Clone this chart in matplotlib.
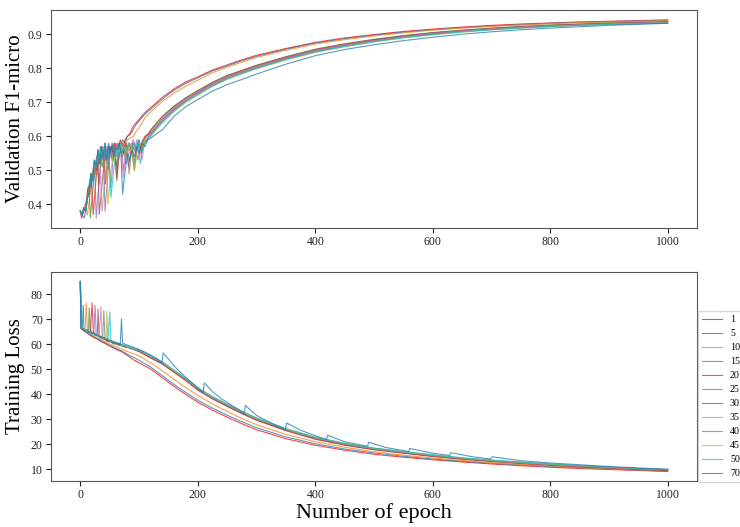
import matplotlib
matplotlib.use('Agg')
import matplotlib.pyplot as plt
from matplotlib.ticker import MultipleLocator

plt.rcParams['font.family'] = ['Liberation Serif', 'DejaVu Serif']

labels = ['1', '5', '10', '15', '20', '25', '30', '35', '40', '45', '50', '70']
starts = [1, 5, 10, 15, 20, 25, 30, 35, 40, 45, 50, 70]
colors = ['#ff0000', '#1f77b4', '#ff7f0e', '#2ca02c', '#d62728', '#9467bd',
          '#8c564b', '#e377c2', '#7f7f7f', '#bcbd22', '#17becf', '#1f77b4']

# ---------------- Validation F1-micro ----------------
v_pre_ep = [0, 3, 6, 9, 12, 15, 18, 21, 24, 27, 30, 33, 36, 39, 42, 45, 48, 51, 54, 57, 60, 63, 66, 69]
v_pre = [0.38, 0.37, 0.39, 0.38, 0.42, 0.44, 0.49, 0.47, 0.53, 0.51, 0.56, 0.52, 0.57, 0.54, 0.58, 0.53,
         0.57, 0.55, 0.58, 0.54, 0.57, 0.56, 0.58, 0.55]

v_post_ep_1 = [2, 4, 7, 10, 13, 16, 19, 22, 25, 28, 31, 34, 37, 40, 44, 48, 52, 56, 60, 64, 68, 72, 76, 80, 85, 90, 95, 100, 105, 110]
v_post_1 = [0.36, 0.37, 0.39, 0.41, 0.45, 0.43, 0.49, 0.47, 0.52, 0.50, 0.55, 0.52, 0.57, 0.54, 0.56, 0.53, 0.57, 0.55, 0.58, 0.56, 0.59, 0.57, 0.59, 0.60, 0.61, 0.63, 0.64, 0.65, 0.66, 0.67]
v_post_ep_5 = [7, 10, 13, 16, 19, 22, 25, 28, 31, 34, 37, 40, 44, 48, 52, 56, 60, 64, 68, 72, 76, 80, 85, 90, 95, 100, 105, 110]
v_post_5 = [0.36, 0.40, 0.44, 0.47, 0.45, 0.51, 0.49, 0.54, 0.52, 0.57, 0.53, 0.56, 0.54, 0.58, 0.55, 0.57, 0.56, 0.58, 0.57, 0.59, 0.58, 0.60, 0.605, 0.62, 0.635, 0.645, 0.655, 0.665]
v_post_ep_10 = [12, 15, 18, 21, 24, 27, 30, 33, 36, 40, 44, 48, 52, 56, 60, 64, 68, 72, 76, 80, 85, 90, 95, 100, 105, 110]
v_post_10 = [0.37, 0.41, 0.45, 0.50, 0.48, 0.53, 0.51, 0.55, 0.53, 0.57, 0.53, 0.56, 0.55, 0.58, 0.55, 0.57, 0.56, 0.58, 0.57, 0.59, 0.595, 0.60, 0.615, 0.625, 0.64, 0.655]
v_post_ep_15 = [17, 20, 23, 26, 29, 32, 35, 38, 41, 44, 47, 50, 53, 56, 59, 62, 65, 68, 71, 74, 77, 80, 84, 88, 92, 96, 100, 104, 108, 112]
v_post_15 = [0.36, 0.42, 0.47, 0.52, 0.50, 0.46, 0.53, 0.51, 0.56, 0.52, 0.50, 0.55, 0.57, 0.53, 0.56, 0.51, 0.56, 0.58, 0.55, 0.57, 0.52, 0.57, 0.56, 0.58, 0.52, 0.57, 0.58, 0.56, 0.59, 0.585]
v_post_ep_20 = [22, 25, 28, 31, 34, 37, 40, 43, 46, 50, 54, 58, 62, 66, 70, 74, 78, 82, 86, 90, 95, 100, 104, 108, 112]
v_post_20 = [0.37, 0.44, 0.50, 0.54, 0.52, 0.56, 0.53, 0.46, 0.53, 0.57, 0.55, 0.58, 0.48, 0.55, 0.57, 0.55, 0.58, 0.51, 0.56, 0.58, 0.56, 0.59, 0.55, 0.58, 0.60]
v_post_ep_25 = [27, 30, 33, 36, 39, 42, 45, 48, 52, 55, 58, 62, 66, 70, 74, 78, 82, 86, 90, 94, 98, 102, 106, 110]
v_post_25 = [0.36, 0.43, 0.49, 0.53, 0.56, 0.53, 0.57, 0.55, 0.45, 0.52, 0.56, 0.54, 0.58, 0.56, 0.50, 0.55, 0.58, 0.56, 0.59, 0.57, 0.53, 0.57, 0.59, 0.60]
v_post_ep_30 = [32, 35, 38, 41, 44, 47, 50, 54, 58, 62, 65, 68, 72, 76, 80, 84, 88, 92, 96, 100, 105, 110]
v_post_30 = [0.37, 0.42, 0.48, 0.53, 0.55, 0.52, 0.56, 0.54, 0.57, 0.47, 0.53, 0.56, 0.54, 0.58, 0.56, 0.58, 0.55, 0.50, 0.56, 0.58, 0.57, 0.60]
v_post_ep_35 = [37, 40, 43, 46, 49, 52, 55, 58, 62, 66, 70, 73, 76, 80, 84, 88, 92, 96, 100, 105, 110]
v_post_35 = [0.38, 0.44, 0.50, 0.54, 0.52, 0.56, 0.54, 0.57, 0.55, 0.58, 0.56, 0.48, 0.54, 0.57, 0.55, 0.58, 0.56, 0.59, 0.57, 0.53, 0.59]
v_post_ep_40 = [42, 45, 48, 51, 54, 57, 60, 64, 68, 72, 76, 80, 83, 86, 90, 94, 98, 102, 106, 110]
v_post_40 = [0.38, 0.45, 0.51, 0.55, 0.53, 0.57, 0.55, 0.58, 0.56, 0.58, 0.55, 0.57, 0.49, 0.54, 0.57, 0.55, 0.58, 0.56, 0.59, 0.58]
v_post_ep_45 = [47, 50, 53, 56, 59, 62, 65, 68, 72, 76, 80, 84, 88, 92, 96, 100, 105, 110]
v_post_45 = [0.40, 0.46, 0.51, 0.55, 0.53, 0.57, 0.55, 0.58, 0.56, 0.57, 0.55, 0.58, 0.56, 0.50, 0.55, 0.58, 0.57, 0.59]
v_post_ep_50 = [52, 55, 58, 61, 64, 67, 70, 74, 78, 82, 86, 90, 94, 98, 102, 106, 110]
v_post_50 = [0.42, 0.47, 0.52, 0.56, 0.54, 0.58, 0.55, 0.57, 0.56, 0.58, 0.56, 0.58, 0.57, 0.59, 0.52, 0.56, 0.58]
v_post_ep_70 = [72, 75, 78, 81, 84, 88, 92, 96, 100, 105, 110, 115]
v_post_70 = [0.43, 0.48, 0.52, 0.55, 0.53, 0.56, 0.54, 0.57, 0.55, 0.58, 0.57, 0.59]

v_late_ep = [120, 140, 160, 180, 200, 225, 250, 275, 300, 350, 400, 450, 500, 550, 600, 650, 700, 750, 800, 850, 900, 950, 1000]
v_late_1 = [0.685, 0.715, 0.74, 0.76, 0.775, 0.795, 0.81, 0.825, 0.838, 0.858, 0.876, 0.889, 0.899, 0.908, 0.915, 0.921, 0.926, 0.93, 0.933, 0.936, 0.938, 0.94, 0.942]
v_late_5 = [0.68, 0.71, 0.736, 0.756, 0.772, 0.792, 0.807, 0.822, 0.835, 0.856, 0.874, 0.887, 0.897, 0.906, 0.913, 0.919, 0.924, 0.928, 0.932, 0.935, 0.937, 0.939, 0.941]
v_late_10 = [0.672, 0.703, 0.728, 0.748, 0.765, 0.787, 0.803, 0.818, 0.832, 0.853, 0.871, 0.884, 0.895, 0.904, 0.912, 0.918, 0.923, 0.927, 0.931, 0.934, 0.936, 0.938, 0.94]
v_late_15 = [0.62, 0.66, 0.69, 0.714, 0.735, 0.759, 0.779, 0.794, 0.809, 0.834, 0.856, 0.872, 0.885, 0.896, 0.905, 0.912, 0.918, 0.923, 0.927, 0.930, 0.933, 0.935, 0.937]
v_late_20 = [0.618, 0.658, 0.688, 0.713, 0.733, 0.758, 0.778, 0.793, 0.808, 0.833, 0.855, 0.871, 0.884, 0.895, 0.904, 0.911, 0.917, 0.922, 0.926, 0.929, 0.932, 0.934, 0.936]
v_late_25 = [0.612, 0.652, 0.684, 0.709, 0.73, 0.755, 0.775, 0.79, 0.806, 0.831, 0.853, 0.869, 0.883, 0.894, 0.903, 0.91, 0.916, 0.921, 0.925, 0.929, 0.931, 0.933, 0.935]
v_late_30 = [0.61, 0.65, 0.682, 0.707, 0.728, 0.753, 0.773, 0.789, 0.804, 0.829, 0.851, 0.867, 0.881, 0.892, 0.901, 0.909, 0.915, 0.92, 0.924, 0.928, 0.93, 0.932, 0.934]
v_late_35 = [0.608, 0.648, 0.68, 0.706, 0.727, 0.752, 0.772, 0.788, 0.803, 0.828, 0.85, 0.866, 0.88, 0.892, 0.901, 0.909, 0.915, 0.92, 0.924, 0.927, 0.93, 0.932, 0.934]
v_late_40 = [0.606, 0.646, 0.678, 0.704, 0.725, 0.75, 0.77, 0.786, 0.801, 0.827, 0.849, 0.865, 0.879, 0.891, 0.9, 0.908, 0.914, 0.919, 0.923, 0.927, 0.93, 0.932, 0.934]
v_late_45 = [0.60, 0.64, 0.673, 0.70, 0.721, 0.747, 0.767, 0.783, 0.798, 0.824, 0.846, 0.863, 0.877, 0.889, 0.898, 0.906, 0.913, 0.918, 0.922, 0.926, 0.929, 0.931, 0.933]
v_late_50 = [0.603, 0.643, 0.676, 0.702, 0.723, 0.748, 0.769, 0.785, 0.80, 0.826, 0.848, 0.864, 0.878, 0.89, 0.899, 0.907, 0.913, 0.918, 0.923, 0.926, 0.929, 0.931, 0.933]
v_late_70 = [0.595, 0.62, 0.66, 0.688, 0.708, 0.733, 0.752, 0.767, 0.783, 0.812, 0.837, 0.855, 0.869, 0.881, 0.891, 0.9, 0.907, 0.913, 0.918, 0.922, 0.926, 0.929, 0.932]

v_post_eps = [v_post_ep_1, v_post_ep_5, v_post_ep_10, v_post_ep_15, v_post_ep_20, v_post_ep_25,
              v_post_ep_30, v_post_ep_35, v_post_ep_40, v_post_ep_45, v_post_ep_50, v_post_ep_70]
v_posts = [v_post_1, v_post_5, v_post_10, v_post_15, v_post_20, v_post_25,
           v_post_30, v_post_35, v_post_40, v_post_45, v_post_50, v_post_70]
v_lates = [v_late_1, v_late_5, v_late_10, v_late_15, v_late_20, v_late_25,
           v_late_30, v_late_35, v_late_40, v_late_45, v_late_50, v_late_70]

# ---------------- Training loss ----------------
l_pre_ep = [0, 1, 3, 5, 8, 11, 14, 17, 20, 23, 26, 29, 32, 35, 38, 41, 44, 47, 50, 53, 56, 59, 62, 65, 68]
l_pre = [85, 66.5, 65.8, 66.2, 65.3, 65.6, 64.7, 64.9, 64.1, 64.4, 63.5, 63.7, 62.9, 63.1, 62.4, 62.6,
         61.8, 62.0, 61.2, 61.4, 60.7, 60.9, 60.2, 60.4, 59.8]
l_spike = [75.0, 75.5, 76.5, 74.5, 76.5, 75.5, 74.0, 75.0, 73.5, 73.0, 72.8, 70.0]

l_post_ep_1 = [2, 5, 10, 15, 20, 25, 30, 35, 40, 45, 50, 55, 60, 65, 70, 75, 80, 90]
l_post_1 = [66.3, 65.5, 64.6, 63.8, 63.0, 62.4, 61.8, 61.0, 60.5, 59.8, 59.2, 58.6, 58.0, 57.5, 57.0, 56.2, 55.5, 53.8]
l_post_ep_5 = [6, 8, 12, 16, 20, 25, 30, 35, 40, 45, 50, 55, 60, 65, 70, 75, 80, 90]
l_post_5 = [65.6, 65.0, 64.6, 63.9, 63.3, 62.6, 62.0, 61.3, 60.8, 60.1, 59.5, 58.9, 58.4, 57.8, 57.3, 56.6, 55.9, 54.8]
l_post_ep_10 = [12, 16, 20, 25, 30, 35, 40, 45, 50, 55, 60, 65, 70, 75, 80, 90]
l_post_10 = [65.4, 64.5, 63.8, 63.0, 62.4, 61.8, 61.2, 60.6, 60.0, 59.5, 59.0, 58.5, 58.0, 57.5, 57.0, 56.2]
l_post_ep_15 = [17, 21, 26, 31, 36, 41, 46, 51, 56, 61, 66, 71, 76, 81, 86, 91, 95]
l_post_15 = [65.2, 64.6, 63.4, 63.2, 62.1, 62.0, 61.0, 60.9, 60.1, 60.0, 59.4, 59.3, 58.7, 58.6, 58.1, 57.8, 57.4]
l_post_ep_20 = [22, 26, 31, 36, 41, 46, 51, 56, 61, 66, 71, 76, 81, 86, 91, 95]
l_post_20 = [64.8, 63.9, 63.5, 62.6, 62.3, 61.4, 61.2, 60.3, 60.2, 59.7, 59.5, 59.0, 58.8, 58.3, 57.9, 57.5]
l_post_ep_25 = [27, 31, 36, 41, 46, 51, 56, 61, 66, 71, 76, 81, 86, 91, 95]
l_post_25 = [63.9, 63.3, 62.8, 62.0, 61.7, 60.9, 60.6, 60.1, 59.9, 59.3, 59.1, 58.6, 58.4, 57.8, 57.6]
l_post_ep_30 = [32, 36, 41, 46, 51, 56, 61, 66, 71, 76, 81, 86, 91, 95]
l_post_30 = [63.2, 62.7, 62.2, 61.5, 61.3, 60.5, 60.4, 59.7, 59.6, 59.0, 58.9, 58.3, 58.0, 57.5]
l_post_ep_35 = [37, 41, 46, 51, 56, 61, 66, 71, 76, 81, 86, 91, 95]
l_post_35 = [62.9, 62.4, 61.8, 61.2, 60.9, 60.3, 60.1, 59.4, 59.3, 58.7, 58.5, 57.9, 57.7]
l_post_ep_40 = [42, 46, 51, 56, 61, 66, 71, 76, 81, 86, 91, 95]
l_post_40 = [62.3, 61.9, 61.4, 60.8, 60.6, 60.0, 59.8, 59.2, 59.0, 58.5, 58.1, 57.6]
l_post_ep_45 = [47, 51, 56, 61, 66, 71, 76, 81, 86, 91, 95]
l_post_45 = [61.8, 61.5, 60.9, 60.6, 60.2, 59.7, 59.5, 58.9, 58.6, 58.2, 57.8]
l_post_ep_50 = [52, 56, 61, 66, 71, 76, 81, 86, 91, 95]
l_post_50 = [61.3, 61.0, 60.5, 60.2, 59.8, 59.4, 59.1, 58.6, 58.3, 57.9]
l_post_ep_70 = [72, 76, 80, 85, 90, 95, 100, 110, 120, 130, 139, 141, 150, 160, 170, 180, 195, 209, 211, 225,
                240, 260, 279, 281, 300, 325, 349, 351, 375, 400, 419, 421, 450, 489, 491, 520, 559, 561,
                600, 629, 631, 670, 699, 701, 750, 800, 850, 900, 950, 1000]
l_post_70 = [60.3, 60.0, 59.6, 59.2, 58.8, 58.3, 57.9, 56.8, 55.6, 54.2, 52.6, 56.5, 54.0, 51.2, 48.8, 46.6,
             43.6, 40.6, 44.5, 41.0, 38.2, 35.2, 32.4, 35.5, 31.5, 28.4, 25.9, 28.5, 25.6, 23.4, 21.9, 23.6,
             21.0, 19.2, 20.8, 18.7, 17.1, 18.3, 16.4, 15.5, 16.6, 14.9, 14.1, 15.0, 13.4, 12.5, 11.8, 11.1,
             10.5, 10.0]

l_late_ep = [100, 120, 140, 160, 180, 200, 225, 250, 275, 300, 350, 400, 450, 500, 550, 600, 650, 700, 750, 800, 850, 900, 950, 1000]
l_late_1 = [52.5, 50, 46.5, 43, 39.8, 36.8, 33.6, 30.8, 28.2, 25.8, 22.2, 19.6, 17.6, 16.0, 14.8, 13.8, 12.9, 12.1, 11.4, 10.8, 10.3, 9.9, 9.5, 9.1]
l_late_5 = [53.5, 50.8, 47.3, 43.8, 40.6, 37.6, 34.4, 31.6, 29.0, 26.6, 22.9, 20.2, 18.1, 16.5, 15.2, 14.1, 13.2, 12.4, 11.7, 11.1, 10.6, 10.1, 9.7, 9.3]
l_late_10 = [55.3, 52.5, 49.3, 45.8, 42.5, 39.5, 36.1, 33.1, 30.3, 27.8, 23.9, 21.0, 18.8, 17.0, 15.6, 14.5, 13.5, 12.6, 11.9, 11.3, 10.7, 10.2, 9.8, 9.4]
l_late_15 = [57.1, 54.6, 52.1, 48.8, 45.5, 41.7, 38.2, 35.2, 32.3, 29.7, 25.5, 22.1, 19.7, 17.9, 16.5, 15.2, 14.1, 13.2, 12.4, 11.7, 11.1, 10.5, 10.0, 9.6]
l_late_20 = [57.0, 54.4, 51.9, 48.6, 45.3, 41.6, 38.1, 35.1, 32.2, 29.6, 25.4, 22.0, 19.6, 17.8, 16.4, 15.1, 14.0, 13.1, 12.3, 11.6, 11.0, 10.5, 10.0, 9.6]
l_late_25 = [57.3, 54.8, 52.3, 49.0, 45.7, 42.0, 38.5, 35.5, 32.6, 30.0, 25.8, 22.4, 20.0, 18.2, 16.7, 15.4, 14.3, 13.4, 12.6, 11.9, 11.2, 10.7, 10.2, 9.8]
l_late_30 = [57.2, 54.7, 52.2, 48.9, 45.6, 41.9, 38.4, 35.4, 32.5, 29.9, 25.7, 22.3, 19.9, 18.1, 16.6, 15.3, 14.2, 13.3, 12.5, 11.8, 11.2, 10.6, 10.1, 9.7]
l_late_35 = [57.4, 54.9, 52.4, 49.1, 45.8, 42.1, 38.6, 35.6, 32.7, 30.1, 25.9, 22.5, 20.1, 18.2, 16.8, 15.5, 14.4, 13.4, 12.6, 11.9, 11.3, 10.7, 10.2, 9.8]
l_late_40 = [57.5, 55.0, 52.5, 49.2, 45.9, 42.2, 38.7, 35.7, 32.8, 30.2, 26.0, 22.6, 20.2, 18.3, 16.9, 15.6, 14.4, 13.5, 12.7, 12.0, 11.3, 10.8, 10.3, 9.8]
l_late_45 = [57.6, 55.1, 52.7, 49.4, 46.1, 42.4, 38.9, 35.9, 33.0, 30.4, 26.1, 22.7, 20.3, 18.4, 17.0, 15.7, 14.5, 13.6, 12.8, 12.0, 11.4, 10.8, 10.3, 9.9]
l_late_50 = [57.7, 55.3, 52.9, 49.6, 46.3, 42.6, 39.1, 36.1, 33.2, 30.6, 26.3, 22.9, 20.4, 18.5, 17.1, 15.8, 14.6, 13.7, 12.9, 12.1, 11.5, 10.9, 10.4, 9.9]
l_late_70 = []  # series 70 carries its whole tail in l_post_70

l_post_eps = [l_post_ep_1, l_post_ep_5, l_post_ep_10, l_post_ep_15, l_post_ep_20, l_post_ep_25,
              l_post_ep_30, l_post_ep_35, l_post_ep_40, l_post_ep_45, l_post_ep_50, l_post_ep_70]
l_posts = [l_post_1, l_post_5, l_post_10, l_post_15, l_post_20, l_post_25,
           l_post_30, l_post_35, l_post_40, l_post_45, l_post_50, l_post_70]
l_lates = [l_late_1, l_late_5, l_late_10, l_late_15, l_late_20, l_late_25,
           l_late_30, l_late_35, l_late_40, l_late_45, l_late_50, l_late_70]

# ---------------- Figure ----------------
W, H = 740, 527
fig = plt.figure(figsize=(W / 100, H / 100), dpi=100)
ax1 = fig.add_axes([51 / W, 1 - 228 / H, 646 / W, 218 / H])
ax2 = fig.add_axes([51 / W, 1 - 481 / H, 646 / W, 209 / H])

for i, lab in enumerate(labels):
    k = starts[i]
    ep = [e for e in v_pre_ep if e <= k] + v_post_eps[i] + v_late_ep
    val = [v for e, v in zip(v_pre_ep, v_pre) if e <= k] + v_posts[i] + v_lates[i]
    ax1.plot(ep, val, color=colors[i], lw=0.8, alpha=0.75)

    lep = [e for e in l_pre_ep if e < k] + [k] + l_post_eps[i]
    lval = [v for e, v in zip(l_pre_ep, l_pre) if e < k] + [l_spike[i]] + l_posts[i]
    if l_lates[i]:
        lep = lep + l_late_ep
        lval = lval + l_lates[i]
    ax2.plot(lep, lval, color=colors[i], lw=0.8, alpha=0.75, label=lab)

ax2.yaxis.set_major_locator(MultipleLocator(10))
for ax in (ax1, ax2):
    ax.set_xticks([0, 200, 400, 600, 800, 1000])
    ax.tick_params(labelsize=8.5, colors='#222222', pad=2.5)
    for s in ax.spines.values():
        s.set_color('#555555')

ax1.set_ylabel('Validation F1-micro', fontsize=15)
ax2.set_ylabel('Training Loss', fontsize=15)
ax1.yaxis.set_label_coords(-0.040, 0.5)
ax2.yaxis.set_label_coords(-0.040, 0.5)
ax2.set_xlabel('Number of epoch', fontsize=16, labelpad=1)

ax2.legend(loc='lower left', bbox_to_anchor=(698 / W, 1 - 482 / H), bbox_transform=fig.transFigure,
           borderaxespad=0, fontsize=7.2, frameon=True)

fig.savefig('out.png', dpi=100)
